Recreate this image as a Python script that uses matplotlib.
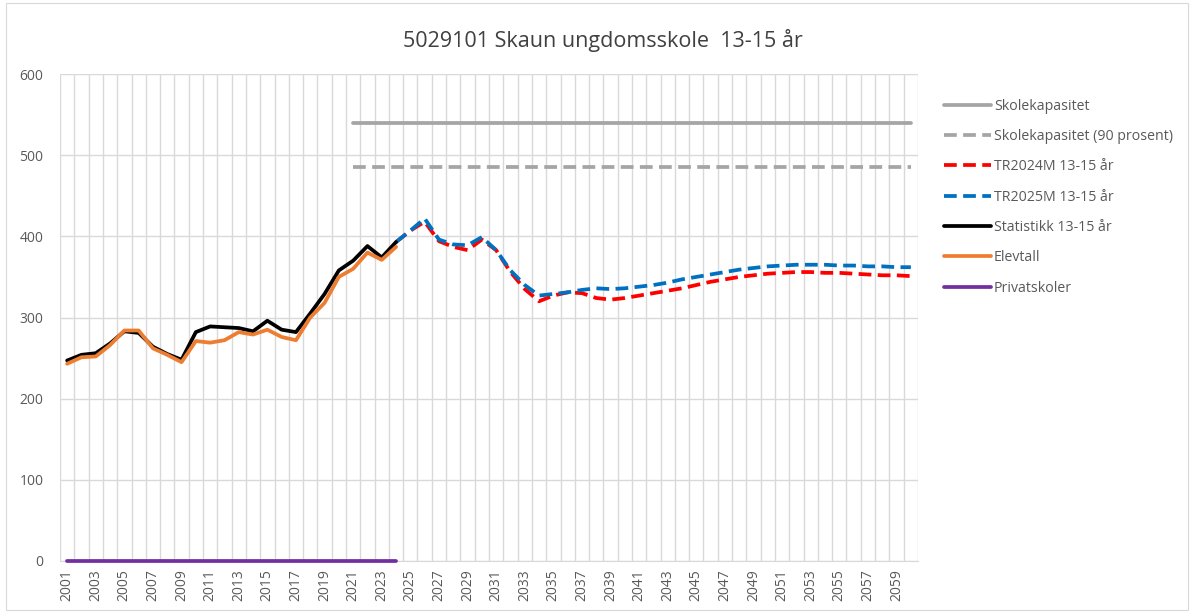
import matplotlib
matplotlib.use("Agg")
import matplotlib.pyplot as plt
import numpy as np
from matplotlib.patches import Rectangle

years = list(range(2001, 2061))
hist_years = list(range(2001, 2025))
proj_years = list(range(2024, 2061))
cap_years = list(range(2021, 2061))

statistikk = [247, 254, 256, 268, 283, 281, 264, 255, 248, 282, 289, 288, 287, 283,
              296, 285, 282, 305, 329, 358, 370, 388, 374, 393]
elevtall = [243, 251, 252, 266, 284, 284, 262, 254, 245, 271, 269, 272, 282, 279,
            285, 276, 272, 300, 318, 350, 360, 380, 371, 387]
privatskoler = [0] * 24
tr2024m = [393, 407, 418, 394, 387, 383, 396, 383, 356, 335, 320, 327, 331, 330,
           324, 322, 324, 327, 330, 333, 336, 340, 344, 347, 350, 352, 354, 355,
           356, 356, 355, 355, 354, 353, 352, 352, 351]
tr2025m = [393, 407, 422, 396, 390, 389, 399, 383, 358, 340, 327, 329, 331, 334,
           336, 335, 336, 338, 340, 343, 347, 350, 353, 356, 359, 361, 363, 364,
           365, 365, 365, 364, 364, 363, 363, 362, 362]
skolekapasitet = [540] * len(cap_years)
skolekapasitet90 = [486] * len(cap_years)

title = "5029101 Skaun ungdomsskole  13-15 år"
labels = ["Skolekapasitet", "Skolekapasitet (90 prosent)", "TR2024M 13-15 år",
          "TR2025M 13-15 år", "Statistikk 13-15 år", "Elevtall", "Privatskoler"]

plt.rcParams['font.family'] = ['Open Sans', 'DejaVu Sans']

W, H = 1192, 612
fig = plt.figure(figsize=(W / 100, H / 100), dpi=100)
fig.patches.append(Rectangle((6 / W, 2 / H), (W - 10) / W, (H - 5) / H,
                             transform=fig.transFigure, fill=False,
                             edgecolor='#D9D9D9', lw=0.8))
ax = fig.add_axes([60 / W, (H - 561) / H, 858 / W, 487 / H])

idx = {y: i for i, y in enumerate(years)}
def xs(ys):
    return [idx[y] for y in ys]

grey = '#A5A5A5'
dash = (3.4, 1.7)
lw = 2.7
l1, = ax.plot(xs(cap_years), skolekapasitet, color=grey, lw=lw, solid_capstyle='round')
l2, = ax.plot(xs(cap_years), skolekapasitet90, color=grey, lw=lw, dashes=dash)
l3, = ax.plot(xs(proj_years), tr2024m, color='#FF0000', lw=lw, dashes=dash)
l4, = ax.plot(xs(proj_years), tr2025m, color='#0070C0', lw=lw, dashes=dash)
l5, = ax.plot(xs(hist_years), statistikk, color='black', lw=lw, solid_capstyle='round', zorder=3)
l6, = ax.plot(xs(hist_years), elevtall, color='#ED7D31', lw=lw, solid_capstyle='round', zorder=4)
l7, = ax.plot(xs(hist_years), privatskoler, color='#7030A0', lw=lw, solid_capstyle='round',
              zorder=5, clip_on=False)

ax.set_xlim(-0.5, len(years) - 0.5)
ax.set_ylim(0, 600)
ax.set_yticks(range(0, 601, 100))
ax.set_xticks(range(0, len(years), 2))
ax.set_xticklabels([str(y) for y in years[::2]], rotation=90)
ax.set_xticks(np.arange(-0.5, len(years), 1), minor=True)
ax.grid(True, which='minor', axis='x', color='#D9D9D9', lw=1)
ax.grid(True, which='major', axis='y', color='#D9D9D9', lw=1)
ax.set_axisbelow(True)
ax.tick_params(axis='both', which='both', length=0, colors='#595959', labelsize=10)
ax.tick_params(axis='x', pad=6)
ax.tick_params(axis='y', pad=12)
for s in ['top', 'right', 'left']:
    ax.spines[s].set_visible(False)
ax.spines['bottom'].set_color('#D9D9D9')

fig.text(603 / W, 1 - 40 / H, title, ha='center', va='center', fontsize=15.5, color='#404040')

fig.legend([l1, l2, l3, l4, l5, l6, l7], labels, loc='upper left',
           bbox_to_anchor=(931 / W, 1 - 86 / H), frameon=False, fontsize=10.2,
           labelcolor='#595959', handlelength=3.3, handletextpad=0.25,
           labelspacing=1.08)

fig.savefig('out.png', dpi=100)
